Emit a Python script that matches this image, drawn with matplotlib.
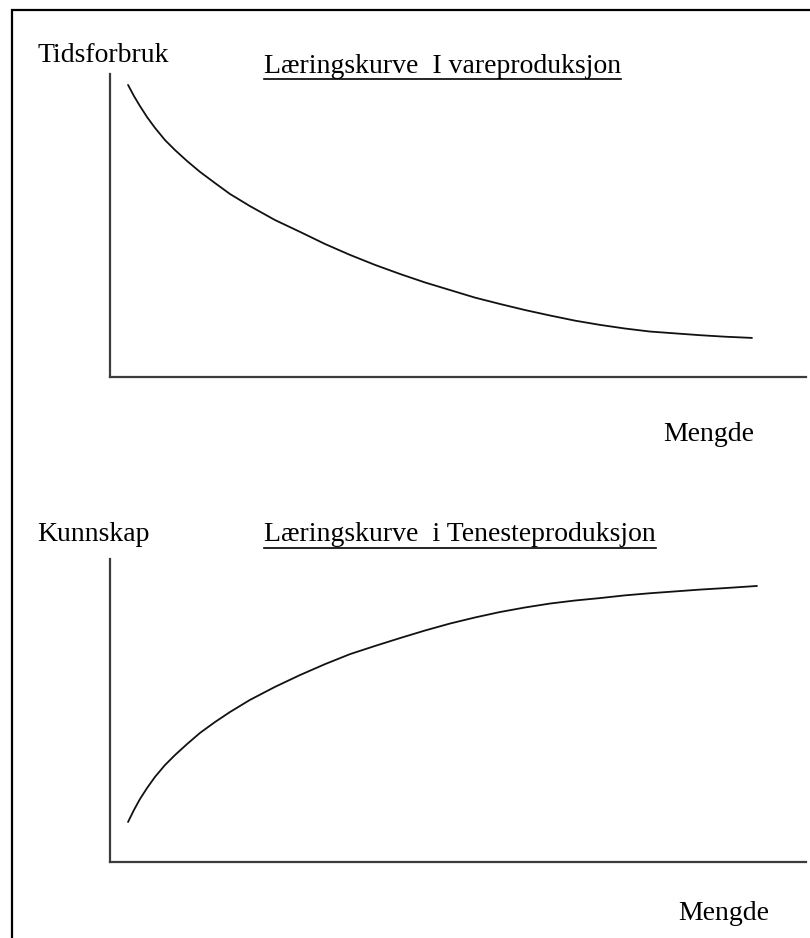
import matplotlib
matplotlib.use("Agg")
import matplotlib.pyplot as plt
from matplotlib.lines import Line2D
from matplotlib.patches import Rectangle

W, H = 810, 938

# Top chart: time used vs quantity (learning curve in goods production)
mengde_vare = [2.59, 3.45, 4.31, 5.32, 6.47, 7.90, 9.34, 11.06, 12.93, 15.09, 17.24,
               20.11, 23.71, 27.30, 30.89, 34.48, 38.07, 41.67, 45.26, 48.85, 52.44,
               56.03, 59.63, 63.22, 66.81, 70.40, 73.99, 77.59, 81.18, 84.77, 88.36, 92.24]
tidsforbruk = [96.4, 92.7, 89.4, 85.8, 82.2, 78.2, 74.9, 71.3, 67.7, 64.0, 60.4,
               56.4, 51.8, 47.9, 43.9, 40.3, 37.0, 34.0, 31.2, 28.7, 26.2,
               24.1, 22.1, 20.3, 18.6, 17.2, 16.0, 15.0, 14.4, 13.8, 13.3, 12.9]

# Bottom chart: knowledge vs quantity (learning curve in service production)
mengde_teneste = [2.59, 3.45, 4.31, 5.32, 6.47, 7.90, 9.34, 11.06, 12.93, 15.09, 17.24,
                  20.11, 23.71, 27.30, 30.89, 34.48, 38.07, 41.67, 45.26, 48.85, 52.44,
                  56.03, 59.63, 63.22, 66.81, 70.40, 73.99, 77.59, 81.18, 84.77, 88.36, 92.96]
kunnskap = [13.2, 17.2, 20.8, 24.4, 28.1, 32.0, 35.3, 38.9, 42.6, 46.2, 49.5,
            53.5, 57.8, 61.7, 65.3, 68.6, 71.3, 73.9, 76.4, 78.7, 80.7,
            82.5, 84.0, 85.3, 86.3, 87.1, 88.0, 88.7, 89.3, 89.9, 90.4, 91.1]

titles = ["Læringskurve  I vareproduksjon", "Læringskurve  i Tenesteproduksjon"]
ylabels = ["Tidsforbruk", "Kunnskap"]
xlabel = "Mengde"

FONT = "Liberation Serif"
FS = 20
SPINE = "#3c3c3c"


def fx(px):
    return px / W


def fy(py):
    return 1 - py / H


fig = plt.figure(figsize=(W / 100, H / 100), dpi=100)
fig.patch.set_facecolor("white")

# outer frame (open to the right and bottom, as in the source)
fig.patches.append(Rectangle((fx(11.5), fy(2000)), fx(2000), fy(9.5) - fy(2000),
                             transform=fig.transFigure, fill=False,
                             edgecolor="black", linewidth=1.6))


def make_axes(top_px, bottom_px, xs, ys):
    ax = fig.add_axes([fx(110), fy(bottom_px), fx(806) - fx(110), fy(top_px) - fy(bottom_px)])
    ax.plot(xs, ys, color="#111111", linewidth=1.3,
            solid_capstyle="round", solid_joinstyle="round")
    ax.set_xlim(0, 100)
    ax.set_ylim(0, 100)
    for side in ("top", "right"):
        ax.spines[side].set_visible(False)
    for side in ("left", "bottom"):
        ax.spines[side].set_color(SPINE)
        ax.spines[side].set_linewidth(1.6)
    ax.set_xticks([])
    ax.set_yticks([])
    ax.patch.set_alpha(0)
    return ax


make_axes(74, 377, mengde_vare, tidsforbruk)
make_axes(559, 862, mengde_teneste, kunnskap)

# labels: left px, baseline px
fig.text(fx(37), fy(62), ylabels[0], family=FONT, fontsize=FS, va="baseline")
fig.text(fx(37), fy(541), ylabels[1], family=FONT, fontsize=FS, va="baseline")
fig.text(fx(663), fy(441), xlabel, family=FONT, fontsize=FS, va="baseline")
fig.text(fx(678), fy(920), xlabel, family=FONT, fontsize=FS, va="baseline")

title_texts = []
for title, base in zip(titles, [73, 541]):
    t = fig.text(fx(264), fy(base), title, family=FONT, fontsize=FS, va="baseline")
    title_texts.append((t, base))

# underline the titles
fig.canvas.draw()
renderer = fig.canvas.get_renderer()
for t, base in title_texts:
    bb = t.get_window_extent(renderer)
    fig.add_artist(Line2D([bb.x0 / W, bb.x1 / W], [fy(base + 6.5)] * 2,
                          transform=fig.transFigure, color="black", linewidth=1.2))

fig.savefig("out.png", dpi=100)
